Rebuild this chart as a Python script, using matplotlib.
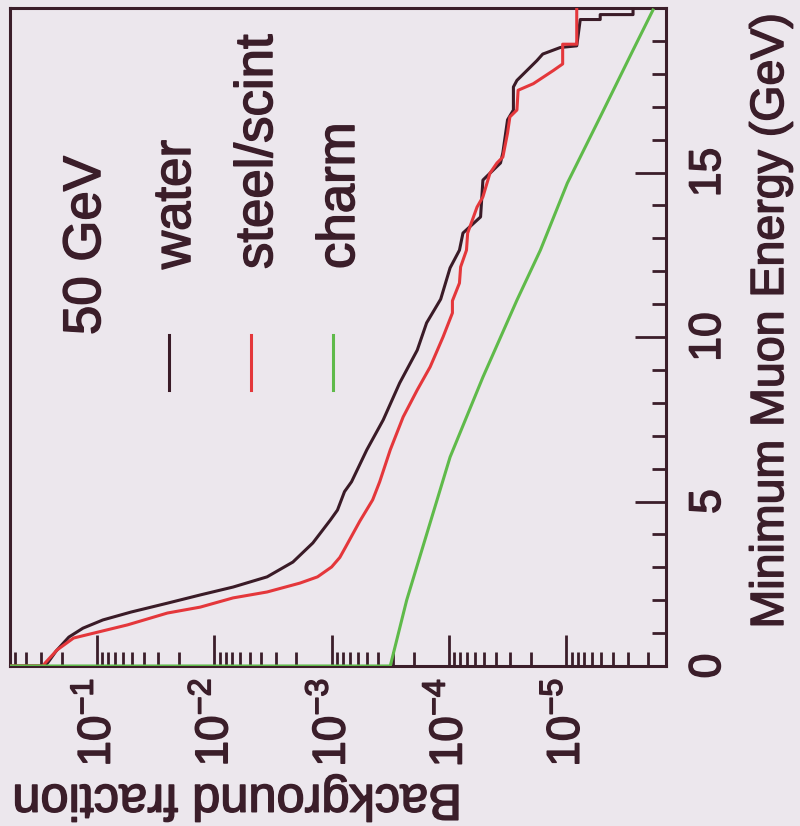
import numpy as np
import matplotlib
matplotlib.use("Agg")
import matplotlib.pyplot as plt
import matplotlib.patheffects as pe
from matplotlib.lines import Line2D
from matplotlib.ticker import LogLocator, MultipleLocator, NullFormatter
from matplotlib.transforms import blended_transform_factory, offset_copy

plt.rcParams['font.family'] = ['Liberation Sans', 'DejaVu Sans']
plt.rcParams['mathtext.fontset'] = 'custom'
plt.rcParams['mathtext.rm'] = 'Liberation Sans'
plt.rcParams['mathtext.it'] = 'Liberation Sans:italic'
plt.rcParams['mathtext.bf'] = 'Liberation Sans:bold'

# cumulative background fraction vs minimum muon energy (GeV), 50 GeV beam
water_energy = [0.0, 0.0, 0.1, 0.45, 0.88, 1.15, 1.4, 1.64, 1.91, 2.16, 2.40, 2.71,
                3.16, 3.74, 4.44, 4.74, 5.3, 5.6, 6.57, 7.48, 8.60, 9.60, 10.43,
                11.15, 12.1, 12.64, 13.16, 13.65, 14.77, 15.29, 15.6, 16.6, 16.9,
                17.6, 17.8, 18.4, 18.6, 18.8, 18.85, 19.65, 19.65, 19.8, 19.8, 20.0]
water_log10 = [0.0, -0.55, -0.58, -0.65, -0.76, -0.88, -1.05, -1.29, -1.60, -1.88,
               -2.16, -2.45, -2.67, -2.84, -2.99, -3.05, -3.11, -3.17, -3.30, -3.44,
               -3.58, -3.73, -3.81, -3.93, -4.01, -4.09, -4.12, -4.27, -4.29, -4.44,
               -4.46, -4.50, -4.55, -4.55, -4.58, -4.75, -4.80, -4.95, -5.09, -5.12,
               -5.29, -5.29, -5.57, -5.57]

steel_energy = [0.0, 0.0, 0.09, 0.49, 0.85, 1.05, 1.25, 1.61, 1.79, 2.07, 2.25, 2.52,
                2.71, 3.01, 3.3, 3.62, 4.4, 5.05, 5.6, 6.57, 7.57, 8.39, 9.09, 10.0,
                10.73, 11.1, 11.64, 12.13, 12.64, 13.16, 13.95, 14.26, 14.98, 15.29,
                15.47, 16.2, 16.69, 16.9, 17.5, 17.7, 18.1, 18.3, 18.9, 18.9, 20.0]
steel_log10 = [0.0, -0.54, -0.557, -0.66, -0.80, -1.03, -1.26, -1.60, -1.88, -2.16,
               -2.45, -2.73, -2.88, -3.00, -3.07, -3.12, -3.24, -3.35, -3.41, -3.50,
               -3.61, -3.73, -3.84, -3.95, -4.03, -4.03, -4.09, -4.10, -4.15, -4.16,
               -4.24, -4.29, -4.35, -4.41, -4.46, -4.50, -4.52, -4.58, -4.59, -4.72,
               -4.89, -4.97, -4.97, -5.09, -5.09]

charm_energy = [0.0, 0.0, 2.0, 3.53, 6.35, 8.78, 11.12, 12.64, 14.68, 16.69, 18.72, 19.94]
charm_log10 = [0.0, -3.50, -3.64, -3.77, -4.01, -4.29, -4.58, -4.78, -5.01, -5.29,
               -5.57, -5.74]

energy_ticks = [0, 5, 10, 15]
decades = [-1, -2, -3, -4, -5]
legend_names = ['water', 'steel/scint', 'charm']

bg = '#ece7ed'
fg = '#3b1e2a'
colours = ['#3a1b27', '#e4373b', '#5fba4a']

# thicken the lettering a little
heavy = [pe.withStroke(linewidth=1.1, foreground=fg)]

fig = plt.figure(figsize=(8, 8.26), dpi=100, facecolor=bg)
ax = fig.add_axes([0.0125, 0.1937, 0.82, 0.7966], facecolor=bg)

series = [(water_log10, water_energy), (steel_log10, steel_energy), (charm_log10, charm_energy)]
for (logf, energy), c in zip(series, colours):
    ax.plot(np.power(10.0, logf), energy, color=c, lw=2.2, zorder=3)

ax.set_xscale('log')
ax.set_xlim(10 ** -0.258, 10 ** -5.851)
ax.set_ylim(0, 20)

ax.xaxis.set_major_locator(LogLocator(base=10, numticks=20))
ax.xaxis.set_minor_locator(LogLocator(base=10, subs=np.arange(2, 10), numticks=20))
ax.xaxis.set_minor_formatter(NullFormatter())
ax.yaxis.set_major_locator(MultipleLocator(5))
ax.yaxis.set_minor_locator(MultipleLocator(1))
ax.yaxis.tick_right()
ax.tick_params(which='both', direction='in', color=fg, width=2,
               labelbottom=False, labelright=False, top=False, left=False)
ax.tick_params(which='major', length=22)
ax.tick_params(which='minor', length=10)
for s in ax.spines.values():
    s.set_color(fg)
    s.set_linewidth(2.2)

# tick labels, turned with the frame
xtrans = blended_transform_factory(ax.transData, ax.transAxes)
for k in decades:
    ax.text(10.0 ** k, 0, '$10^{%d}$' % k,
            transform=offset_copy(xtrans, fig=fig, x=13, y=-12, units='dots'),
            rotation=90, rotation_mode='anchor', ha='right', va='baseline',
            fontsize=33, color=fg, path_effects=heavy)

ytrans = blended_transform_factory(ax.transAxes, ax.transData)
for e in energy_ticks:
    ax.text(1, e, str(e),
            transform=offset_copy(ytrans, fig=fig, x=54, y=0, units='dots'),
            rotation=90, rotation_mode='anchor', ha='center', va='baseline',
            fontsize=32, color=fg, path_effects=heavy)

ax.text(1, 1, 'Minimum Muon Energy (GeV)',
        transform=offset_copy(ax.transAxes, fig=fig, x=117, y=-5, units='dots'),
        rotation=90, rotation_mode='anchor', ha='right', va='baseline',
        fontsize=33.5, color=fg, path_effects=heavy)
ax.text(0, 0, 'Background fraction',
        transform=offset_copy(ax.transAxes, fig=fig, x=452, y=-119, units='dots'),
        rotation=180, rotation_mode='anchor', ha='left', va='baseline',
        fontsize=36.4, color=fg, path_effects=heavy)

# legend block
ax.text(0.1372, 0.503, '50 GeV', transform=ax.transAxes, rotation=90,
        rotation_mode='anchor', ha='left', va='baseline', fontsize=38, color=fg,
        path_effects=heavy)
for i, (name, c) in enumerate(zip(legend_names, colours)):
    xs = 0.2424 + i * 0.125
    ax.add_line(Line2D([xs, xs], [0.4195, 0.503], transform=ax.transAxes,
                       color=c, lw=2.2))
    ax.text(xs + 0.032, 0.6033, name, transform=ax.transAxes, rotation=90,
            rotation_mode='anchor', ha='left', va='baseline', fontsize=38, color=fg,
            path_effects=heavy)

fig.savefig('out.png', dpi=100, facecolor=bg)
